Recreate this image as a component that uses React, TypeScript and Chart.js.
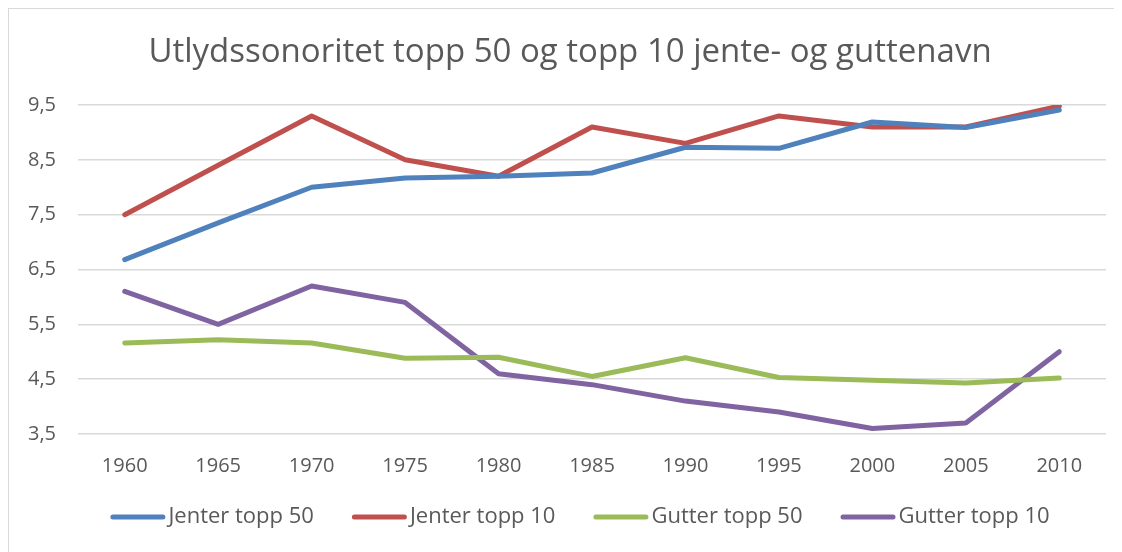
import React, { useEffect, useRef } from "react";
import { Chart, registerables } from "chart.js";

Chart.register(...registerables);

const years = ["1960", "1965", "1970", "1975", "1980", "1985", "1990", "1995", "2000", "2005", "2010"];
const jenterTopp50 = [6.68, 7.35, 8.0, 8.17, 8.2, 8.26, 8.73, 8.71, 9.19, 9.09, 9.41];
const jenterTopp10 = [7.5, 8.4, 9.3, 8.5, 8.2, 9.1, 8.8, 9.3, 9.1, 9.1, 9.48];
const gutterTopp50 = [5.16, 5.22, 5.16, 4.88, 4.9, 4.55, 4.89, 4.53, 4.48, 4.43, 4.52];
const gutterTopp10 = [6.1, 5.5, 6.2, 5.9, 4.6, 4.4, 4.1, 3.9, 3.6, 3.7, 5.0];
const yTicks = [3.5, 4.5, 5.5, 6.5, 7.5, 8.5, 9.5];
const titleText = "Utlydssonoritet topp 50 og topp 10 jente- og guttenavn";

const FONT = "'Open Sans', Lato, sans-serif";
const TEXT = "#595959";

const titleAndLegend = {
  id: "titleAndLegend",
  afterDraw(chart: any) {
    const ctx = chart.ctx;
    ctx.save();
    // title
    ctx.font = `33px ${FONT}`;
    ctx.fillStyle = TEXT;
    ctx.textAlign = "center";
    ctx.textBaseline = "middle";
    ctx.fillText(titleText, 561, 44);
    // legend
    const lineW = 55;
    const gapText = 3;
    const gapItem = 38;
    const cy = 508;
    ctx.font = `22px ${FONT}`;
    const items = chart.data.datasets.map((d: any) => ({
      label: d.label,
      color: d.borderColor,
      w: ctx.measureText(d.label).width,
    }));
    const total =
      items.reduce((s: number, it: any) => s + lineW + gapText + it.w, 0) + gapItem * (items.length - 1);
    let x = 571 - total / 2;
    items.forEach((it: any) => {
      ctx.strokeStyle = it.color;
      ctx.lineWidth = 5;
      ctx.lineCap = "round";
      ctx.beginPath();
      ctx.moveTo(x + 2.5, cy);
      ctx.lineTo(x + lineW - 2.5, cy);
      ctx.stroke();
      ctx.fillStyle = TEXT;
      ctx.textBaseline = "middle";
      ctx.textAlign = "left";
      ctx.fillText(it.label, x + lineW + gapText, cy);
      x += lineW + gapText + it.w + gapItem;
    });
    ctx.restore();
  },
};

export default function App() {
  const ref = useRef<HTMLCanvasElement>(null);
  useEffect(() => {
    document.body.style.margin = "8px";
    document.body.style.overflow = "hidden";
    const mk = (label: string, data: number[], color: string) => ({
      label,
      data,
      borderColor: color,
      backgroundColor: color,
      borderWidth: 5,
      pointRadius: 0,
      borderJoinStyle: "round" as const,
      borderCapStyle: "round" as const,
      tension: 0,
    });
    const chart = new Chart(ref.current!, {
      type: "line",
      data: {
        labels: years,
        datasets: [
          mk("Jenter topp 50", jenterTopp50, "#4F81BD"),
          mk("Jenter topp 10", jenterTopp10, "#C0504D"),
          mk("Gutter topp 50", gutterTopp50, "#9BBB59"),
          mk("Gutter topp 10", gutterTopp10, "#8064A2"),
        ],
      },
      plugins: [titleAndLegend],
      options: {
        animation: false,
        responsive: true,
        maintainAspectRatio: false,
        layout: { padding: { left: 0, right: 16, top: 96, bottom: 54 } },
        plugins: {
          tooltip: { enabled: false },
          title: { display: false },
          legend: { display: false },
        },
        scales: {
          x: {
            grid: { display: false, drawTicks: false },
            border: { display: false },
            ticks: { color: TEXT, font: { family: FONT, size: 20 }, padding: 20, maxRotation: 0 },
            offset: true,
          },
          y: {
            min: 3.5,
            max: 9.5,
            afterBuildTicks: (scale: any) => {
              scale.ticks = yTicks.map((v) => ({ value: v }));
            },
            afterFit: (scale: any) => {
              scale.width = 69;
            },
            grid: { color: "#d9d9d9", lineWidth: 1.5, drawTicks: false },
            border: { display: false },
            ticks: {
              color: TEXT,
              font: { family: FONT, size: 20 },
              padding: 22,
              callback: (v: any) => Number(v).toFixed(1).replace(".", ","),
            },
          },
        },
      },
    });
    return () => chart.destroy();
  }, []);
  return (
    <div
      style={{
        position: "relative",
        width: 1113,
        height: 543,
        borderLeft: "1.5px solid #d9d9d9",
        borderTop: "1.5px solid #d9d9d9",
      }}
    >
      <canvas ref={ref} />
    </div>
  );
}
